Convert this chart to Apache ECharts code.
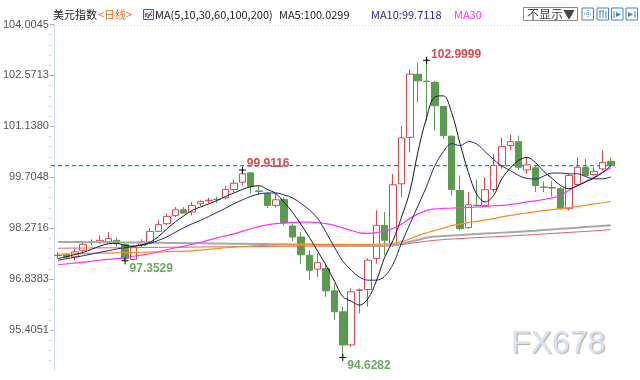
<!DOCTYPE html>
<html><head><meta charset="utf-8">
<script src="https://cdn.jsdelivr.net/npm/echarts@6/dist/echarts.min.js"></script>
<style>html,body{margin:0;padding:0;background:#fff}#c{width:640px;height:380px}</style>
</head><body><div id="c"></div>
<script>
const opens = [97.50, 97.529, 97.462, 97.649, 97.875, 97.874, 97.882, 97.930, 97.809, 97.39,
 97.790, 97.882, 98.182, 98.398, 98.631, 98.791, 98.724, 98.959, 99.045, 99.085,
 99.127, 99.360, 99.565, 99.829, 99.320, 99.240, 98.912, 99.080, 98.331, 98.022,
 97.509, 97.117, 97.136, 96.508, 95.919, 94.985, 96.520, 96.547, 97.416, 98.351,
 97.790, 99.520, 100.827, 102.606, 102.410, 102.370, 101.697, 100.861, 99.332, 98.286,
 98.920, 98.912, 99.360, 100.034, 100.595, 100.707, 99.913, 99.969, 99.430, 99.415,
 99.380, 98.819, 99.501, 99.986, 99.781, 99.941, 100.154];
const closes = [97.51, 97.462, 97.602, 97.818, 97.889, 97.930, 97.978, 97.837, 97.411, 97.725,
 97.882, 98.182, 98.370, 98.603, 98.791, 98.696, 98.912, 99.024, 99.060, 99.075,
 99.360, 99.537, 99.801, 99.453, 99.305, 98.912, 99.071, 98.415, 98.022, 97.523,
 97.088, 97.299, 96.508, 95.919, 94.985, 96.480, 96.535, 97.369, 98.351, 97.930,
 99.492, 100.811, 102.606, 102.418, 102.400, 101.717, 100.875, 99.360, 98.258, 98.931,
 98.905, 99.355, 100.034, 100.567, 100.707, 99.986, 100.053, 99.473, 99.420, 99.400,
 98.819, 99.753, 99.986, 99.753, 99.865, 100.126, 100.030];
const lows = [97.416, 97.416, 97.369, 97.602, 97.790, 97.837, 97.846, 97.762, 97.3529, 97.37,
 97.742, 97.854, 98.162, 98.351, 98.583, 98.679, 98.631, 98.892, 98.976, 98.976,
 99.080, 99.285, 99.473, 99.240, 99.220, 98.836, 98.864, 98.351, 97.910, 97.257,
 96.808, 96.900, 96.340, 95.686, 94.6282, 94.937, 95.874, 96.059, 97.276, 97.509,
 97.742, 99.144, 100.407, 101.809, 101.296, 101.015, 100.782, 99.192, 98.210, 98.258,
 98.864, 98.864, 99.285, 99.941, 100.454, 99.913, 99.801, 99.285, 99.285, 99.164,
 98.791, 98.771, 99.473, 99.725, 99.753, 99.893, 99.986];
const highs = [97.602, 97.574, 97.697, 97.910, 97.958, 98.070, 98.154, 98.014, 97.846, 97.790,
 97.958, 98.267, 98.491, 98.696, 98.864, 98.864, 99.004, 99.052, 99.127, 99.164,
 99.453, 99.641, 99.9116, 99.846, 99.473, 99.285, 99.240, 99.144, 98.398, 98.162,
 97.649, 97.565, 97.276, 96.715, 96.059, 96.575, 96.575, 97.425, 98.771, 98.724,
 99.801, 101.156, 102.746, 102.931, 102.9999, 102.418, 101.717, 100.875, 99.753, 99.285,
 99.641, 99.706, 100.362, 100.827, 100.903, 100.875, 100.267, 100.034, 99.585, 99.593,
 99.425, 99.801, 100.267, 100.222, 99.986, 100.454, 100.267];
const ma5 = [97.416, 97.467, 97.529, 97.588, 97.677, 97.767, 97.832, 97.846, 97.784, 97.761,
 97.804, 97.874, 98.042, 98.253, 98.449, 98.617, 98.771, 98.870, 98.954, 99.052,
 99.164, 99.262, 99.361, 99.436, 99.467, 99.361, 99.248, 98.996, 98.715, 98.379,
 98.014, 97.621, 97.229, 96.780, 96.345, 96.219, 96.107, 96.289, 96.780, 97.453,
 97.930, 98.575, 99.304, 100.454, 101.380, 101.969, 101.997, 101.520, 100.651, 99.837,
 99.220, 99.010, 99.192, 99.669, 99.964, 100.180, 100.264, 100.118, 99.865, 99.669,
 99.473, 99.380, 99.467, 99.571, 99.683, 99.837, 100.0299];
const ma10 = [97.369, 97.411, 97.453, 97.495, 97.543, 97.593, 97.635, 97.686, 97.720, 97.761,
 97.804, 97.846, 97.930, 98.028, 98.154, 98.281, 98.393, 98.490, 98.600, 98.720,
 98.830, 98.960, 99.066, 99.164, 99.234, 99.262, 99.262, 99.206, 99.122, 98.968,
 98.786, 98.547, 98.154, 97.734, 97.341, 97.088, 96.892, 96.808, 96.808, 96.920,
 97.257, 97.846, 98.379, 98.912, 99.445, 100.034, 100.426, 100.651, 100.595, 100.707,
 100.637, 100.426, 100.202, 100.020, 99.893, 99.753, 99.669, 99.655, 99.739, 99.823,
 99.823, 99.801, 99.801, 99.725, 99.661, 99.661, 99.7118];
const ma30 = [97.242, 97.265, 97.290, 97.313, 97.341, 97.369, 97.391, 97.413, 97.444, 97.481,
 97.515, 97.551, 97.607, 97.663, 97.720, 97.761, 97.818, 97.874, 97.935, 98.000,
 98.056, 98.112, 98.182, 98.253, 98.323, 98.365, 98.398, 98.421, 98.435, 98.443,
 98.440, 98.426, 98.401, 98.351, 98.281, 98.210, 98.140, 98.126, 98.146, 98.196,
 98.267, 98.379, 98.547, 98.673, 98.771, 98.814, 98.828, 98.836, 98.847, 98.856,
 98.867, 98.884, 98.903, 98.912, 98.940, 98.968, 99.010, 99.038, 99.080, 99.122,
 99.192, 99.332, 99.464, 99.585, 99.706, 99.837, 99.969];
const ma60 = [97.537, 97.543, 97.548, 97.554, 97.560, 97.565, 97.571, 97.576, 97.582, 97.588,
 97.593, 97.599, 97.604, 97.610, 97.616, 97.621, 97.635, 97.655, 97.677, 97.697,
 97.720, 97.739, 97.753, 97.767, 97.781, 97.790, 97.801, 97.806, 97.812, 97.815,
 97.818, 97.817, 97.815, 97.814, 97.813, 97.812, 97.812, 97.813, 97.823, 97.826,
 97.846, 97.888, 97.972, 98.070, 98.140, 98.210, 98.272, 98.342, 98.384, 98.426,
 98.463, 98.505, 98.541, 98.589, 98.631, 98.668, 98.701, 98.735, 98.766, 98.794,
 98.819, 98.850, 98.884, 98.917, 98.954, 98.987, 99.024];
const ma100 = [97.882, 97.882, 97.879, 97.879, 97.876, 97.876, 97.874, 97.874, 97.871, 97.868,
 97.865, 97.862, 97.860, 97.857, 97.854, 97.851, 97.848, 97.846, 97.843, 97.840,
 97.837, 97.834, 97.832, 97.829, 97.826, 97.823, 97.820, 97.818, 97.815, 97.812,
 97.809, 97.804, 97.798, 97.793, 97.787, 97.781, 97.776, 97.773, 97.773, 97.778,
 97.795, 97.832, 97.888, 97.944, 98.000, 98.034, 98.051, 98.065, 98.076, 98.090,
 98.104, 98.118, 98.132, 98.146, 98.160, 98.174, 98.188, 98.202, 98.219, 98.236,
 98.253, 98.269, 98.286, 98.303, 98.320, 98.337, 98.351];
const ma200 = [97.705, 97.708, 97.711, 97.711, 97.714, 97.716, 97.719, 97.719, 97.722, 97.725,
 97.728, 97.728, 97.731, 97.733, 97.736, 97.736, 97.739, 97.742, 97.745, 97.745,
 97.747, 97.750, 97.753, 97.753, 97.756, 97.759, 97.761, 97.761, 97.764, 97.767,
 97.767, 97.767, 97.767, 97.767, 97.764, 97.764, 97.761, 97.761, 97.761, 97.767,
 97.781, 97.806, 97.840, 97.874, 97.905, 97.930, 97.950, 97.964, 97.978, 97.992,
 98.006, 98.017, 98.028, 98.039, 98.053, 98.067, 98.081, 98.095, 98.109, 98.124,
 98.138, 98.152, 98.166, 98.180, 98.196, 98.213, 98.230];
const yTickLabels = ['95.4051', '96.8383', '98.2716', '99.7048', '101.1380', '102.5713', '104.0045'];
const markIdx = [8, 22, 34, 44];
const markVals = [97.3529, 99.9116, 94.6282, 102.9999];
const markKinds = ['low', 'high', 'low', 'high'];

const days = opens.map((_, i) => String(i + 1));
const candles = opens.map((o, i) => [o, closes[i], lows[i], highs[i]]);
const majorVals = yTickLabels.map(Number);
const step = (majorVals[majorVals.length - 1] - majorVals[0]) / (majorVals.length - 1);
const Y_MIN = 94.2791, Y_MAX = 104.0186;
const minorVals = [];
for (let k = -20; k <= 40; k++) {
  const v = majorVals[0] + k * step / 5;
  if (k % 5 !== 0 && v > Y_MIN && v < Y_MAX) minorVals.push(v);
}
const lastPrice = closes[closes.length - 1];

const FONT = '"Noto Sans CJK SC", "Liberation Sans", sans-serif';
const markData = markIdx.map((idx, j) => {
  const hi = markKinds[j] === 'high';
  return {
    coord: [idx, markVals[j]], value: markVals[j],
    symbol: 'path://M0,3h7v1h-7z M3,0h1v7h-1z', symbolSize: 7,
    itemStyle: { color: '#000' },
    label: {
      show: true, formatter: markVals[j].toFixed(4), position: 'right', distance: 1,
      offset: [0, hi ? -6 : 8], color: hi ? '#e04848' : '#6cab5c',
      fontWeight: 'bold', fontSize: 12, fontFamily: 'Liberation Sans'
    }
  };
});

function maLine(name, data, color, width) {
  return { name, type: 'line', data, xAxisIndex: 0, yAxisIndex: 0, symbol: 'none', smooth: 0.35,
    lineStyle: { color, width }, itemStyle: { color }, z: 3, silent: true, animation: false };
}

const txt = (x, y, text, fill, size) => ({ type: 'text', x, y,
  style: { text, fill, font: (size || 11) + 'px ' + FONT, verticalAlign: 'middle', align: 'left' } });
const btn = (x) => ({ type: 'rect', shape: { x, y: 8, width: 11.5, height: 12 },
  style: { fill: '#fff', stroke: '#3d86d6', lineWidth: 1 } });
const ln = (x1, y1, x2, y2, c, dash) => ({ type: 'line', shape: { x1, y1, x2, y2 },
  style: { stroke: c || '#3d86d6', lineWidth: 1, lineDash: dash || null } });

const G = { left: 51, top: 24, width: 564, height: 346, containLabel: false };
const chart = echarts.init(document.getElementById('c'), null, { renderer: 'canvas' });
chart.setOption({
  animation: false,
  backgroundColor: '#fff',
  grid: [Object.assign({}, G), Object.assign({}, G), Object.assign({}, G)],
  xAxis: [
    { type: 'category', data: days, gridIndex: 0, boundaryGap: true, show: false },
    { type: 'category', data: days, gridIndex: 1, boundaryGap: true, show: false },
    { type: 'value', gridIndex: 2, min: 0, max: 1, show: false }
  ],
  yAxis: [
    { type: 'value', gridIndex: 0, min: Y_MIN, max: Y_MAX, position: 'left', scale: true,
      axisLine: { show: true, lineStyle: { color: '#cddbea', width: 1 } },
      axisTick: { show: true, length: 4, customValues: majorVals, lineStyle: { color: '#9fb2c8' } },
      axisLabel: { show: true, customValues: majorVals, formatter: v => v.toFixed(4), color: '#555',
        fontSize: 11, fontFamily: 'Liberation Sans', margin: 5 },
      splitLine: { show: false } },
    { type: 'value', gridIndex: 1, min: Y_MIN, max: Y_MAX, position: 'left', scale: true,
      axisLine: { show: false },
      axisTick: { show: true, length: 2, customValues: minorVals, lineStyle: { color: '#c3d1e0' } },
      axisLabel: { show: false }, splitLine: { show: false } },
    { type: 'value', gridIndex: 2, min: Y_MIN, max: Y_MAX, show: false, scale: true }
  ],
  series: [
    { name: 'price', type: 'line', xAxisIndex: 2, yAxisIndex: 2, z: 1, symbol: 'none', silent: true,
      data: [[0, lastPrice], [0.995, lastPrice]],
      lineStyle: { color: '#1a86ff', width: 1.2, type: [4, 3] }, itemStyle: { color: '#1a86ff' } },
    { name: 'K', type: 'candlestick', data: candles, barWidth: 7, xAxisIndex: 0, yAxisIndex: 0, z: 2,
      itemStyle: { color: '#ffffff', color0: '#5b9b4f', borderColor: '#e04848', borderColor0: '#5b9b4f', borderWidth: 1 },
      markPoint: { silent: true, data: markData }
    },
    maLine('MA200', ma200, '#e06262', 1),
    maLine('MA100', ma100, '#a8a8a8', 2),
    maLine('MA60', ma60, '#ff8a1f', 1.2),
    maLine('MA30', ma30, '#ff33ff', 1.2),
    maLine('MA10', ma10, '#23238f', 1),
    maLine('MA5', ma5, '#1a1a1a', 1)
  ],
  graphic: [
    ln(50, 25.5, 640, 25.5, '#d6d6d6', [1, 2]),
    txt(53, 15, '美元指数', '#222'),
    txt(98, 15, '<日线>', '#f07020'),
    { type: 'rect', shape: { x: 143.5, y: 9.5, width: 10, height: 10 }, style: { fill: '#eef3ff', stroke: '#3a5fb8', lineWidth: 1 } },
    { type: 'polyline', shape: { points: [[145, 17], [147, 13], [149, 16], [152, 11]] }, style: { stroke: '#e03030', fill: null, lineWidth: 1 } },
    { type: 'polyline', shape: { points: [[145, 14], [148, 18], [150, 14], [152, 16]] }, style: { stroke: '#3050c0', fill: null, lineWidth: 1 } },
    txt(155, 15, 'MA(5,10,30,60,100,200)', '#222'),
    txt(279, 15, 'MA5:' + ma5[ma5.length - 1].toFixed(4), '#222'),
    txt(371, 15, 'MA10:' + ma10[ma10.length - 1].toFixed(4), '#2a2a9a'),
    txt(454, 15, 'MA30', '#ff33ff'),
    { type: 'rect', shape: { x: 523.5, y: 7.5, width: 54, height: 13 }, style: { fill: '#fff', stroke: '#8a8a8a', lineWidth: 1 } },
    txt(527, 14.5, '不显示▼', '#444', 12),
    btn(582), btn(597), btn(611.5), btn(626),
    ln(584, 14, 592, 14, null, [1, 1]), ln(588, 10, 588, 18, null, [1, 1]),
    ln(600, 11, 600, 18), ln(603, 11, 603, 18), ln(606, 11, 606, 18), ln(599, 11, 604, 11),
    ln(614, 11, 614, 18), { type: 'polygon', shape: { points: [[616, 12], [621, 14.5], [616, 17]] }, style: { fill: '#3d86d6' } },
    ln(635, 11, 635, 18), { type: 'polygon', shape: { points: [[628, 12], [633, 14.5], [628, 17]] }, style: { fill: '#3d86d6' } },
    { type: 'text', x: 511, y: 344, z: 0,
      style: { text: 'FX678', fill: '#d5e3f6', font: '32px "Liberation Sans", sans-serif', verticalAlign: 'middle', align: 'left',
        textShadowColor: 'rgba(150,110,70,0.55)', textShadowOffsetX: 1.2, textShadowOffsetY: 1.2, textShadowBlur: 1 } }
  ]
});
</script>
</body></html>
